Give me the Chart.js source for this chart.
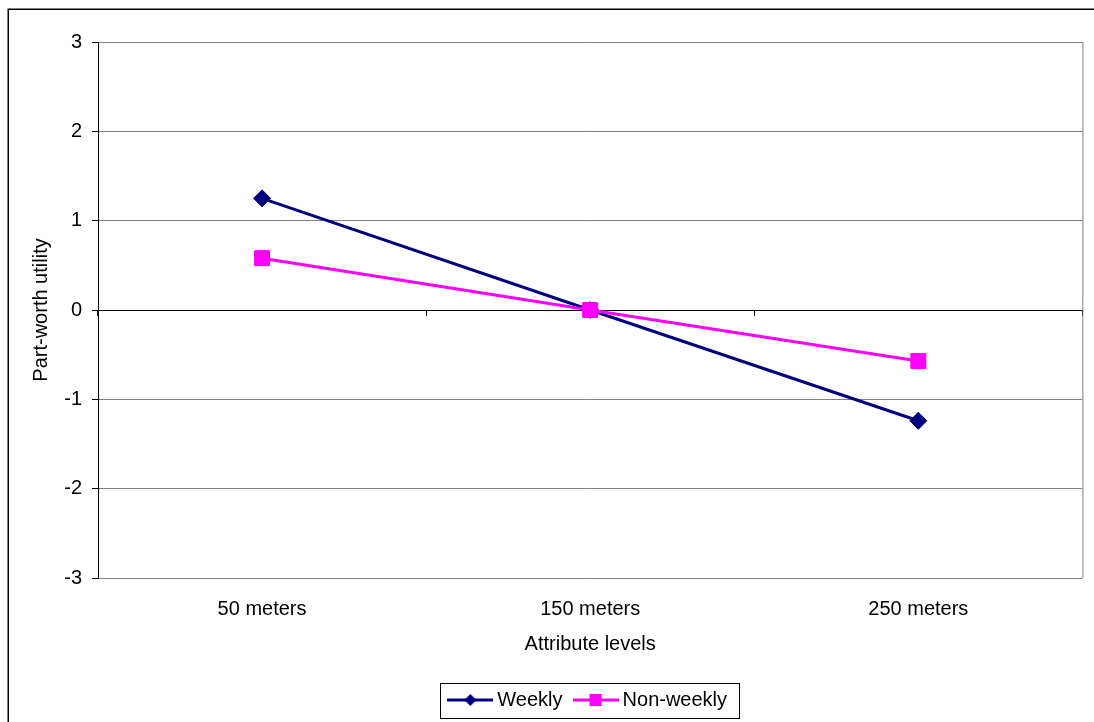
<!DOCTYPE html>
<html>
<head>
<meta charset="utf-8">
<script src="https://cdn.jsdelivr.net/npm/chart.js@4/dist/chart.umd.min.js"></script>
<style>
  html, body { margin: 0; padding: 0; background: #fff; overflow: hidden; }
  #wrap { position: relative; width: 1094px; height: 722px; }
</style>
</head>
<body>
<div id="wrap"><canvas id="partWorth"></canvas></div>
<script>
// valores
var categories = ['50 meters', '150 meters', '250 meters'];
var weeklyValues = [1.25, 0, -1.24];
var nonWeeklyValues = [0.58, 0, -0.57];
var yMin = -3, yMax = 3, yStep = 1;

Chart.defaults.font.family = "'Liberation Sans', Arial, sans-serif";
Chart.defaults.font.size = 20;
Chart.defaults.color = '#000';

// amostra da legenda: linha com o marcador no meio
function legendSample(color, marker) {
    var c = document.createElement('canvas');
    c.width = 46; c.height = 20;
    var g = c.getContext('2d');
    g.strokeStyle = color;
    g.fillStyle = color;
    g.lineWidth = 3;
    g.beginPath(); g.moveTo(0, 10); g.lineTo(46, 10); g.stroke();
    g.beginPath();
    if (marker === 'diamond') {
        g.moveTo(23, 4); g.lineTo(29, 10); g.lineTo(23, 16); g.lineTo(17, 10);
        g.closePath();
    } else {
        g.rect(17, 4, 12, 12);
    }
    g.fill();
    return c;
}

var framePlugin = {
    id: 'frames',
    afterDraw: function (chart) {
        var ctx = chart.ctx, a = chart.chartArea;
        ctx.save();
        // borda direita da área do gráfico
        ctx.strokeStyle = '#808080';
        ctx.lineWidth = 1;
        ctx.beginPath();
        ctx.moveTo(a.right + 0.5, a.top);
        ctx.lineTo(a.right + 0.5, a.bottom);
        ctx.stroke();
        // moldura externa
        ctx.strokeStyle = '#000';
        ctx.lineWidth = 1.5;
        ctx.strokeRect(8.25, 9.25, 2000, 2000);
        // caixa da legenda
        var hb = chart.legend.legendHitBoxes;
        if (hb && hb.length) {
            var first = hb[0], last = hb[hb.length - 1];
            var cy = first.top + first.height / 2;
            var x1 = Math.round(first.left - 13) + 0.5;
            var x2 = Math.round(last.left + last.width + 12) + 0.5;
            ctx.lineWidth = 1;
            ctx.strokeRect(x1, Math.round(cy - 17) + 0.5, x2 - x1, 35);
        }
        ctx.restore();
    }
};

var ctxPartWorth = document.getElementById('partWorth').getContext('2d');

var dataPartWorth = {
    labels: categories,
    datasets: [{
        label: 'Weekly',
        data: weeklyValues,
        borderColor: '#000080',
        backgroundColor: '#000080',
        borderWidth: 3,
        pointStyle: 'rectRot',
        pointRadius: 8.5,
        pointBorderWidth: 1,
        tension: 0,
        order: 2,
        legendMarker: 'diamond'
    }, {
        label: 'Non-weekly',
        data: nonWeeklyValues,
        borderColor: '#FF00FF',
        backgroundColor: '#FF00FF',
        borderWidth: 3,
        pointStyle: 'rect',
        pointRadius: 10.6,
        pointBorderWidth: 1,
        tension: 0,
        order: 1,
        legendMarker: 'square'
    }]
};

var optionsPartWorth = {
    responsive: true,
    maintainAspectRatio: false,
    animation: false,
    layout: {
        padding: { top: 42, right: 10, bottom: 2, left: 0 }
    },
    scales: {
        x: {
            type: 'category',
            position: 'bottom',
            offset: true,
            grid: { display: false },
            border: { display: false },
            ticks: { padding: 11, color: '#000', font: { size: 20 } },
            title: {
                display: true,
                text: 'Attribute levels',
                color: '#000',
                font: { size: 20 },
                padding: { top: 0, bottom: 18 }
            },
            afterFit: function (scale) { scale.height = 96; }
        },
        // marcas do eixo X sobre a linha do zero
        x0: {
            type: 'category',
            position: { y: 0 },
            offset: true,
            grid: {
                offset: true,
                drawOnChartArea: false,
                drawTicks: true,
                tickLength: 6,
                tickColor: '#000',
                color: '#000'
            },
            border: { display: false },
            ticks: { display: false },
            afterFit: function (scale) { scale.height = 0; }
        },
        y: {
            type: 'linear',
            position: 'left',
            min: yMin,
            max: yMax,
            ticks: { stepSize: yStep, padding: 10, color: '#000', font: { size: 20 } },
            grid: {
                color: function (c) { return c.tick && c.tick.value === 0 ? '#000' : '#808080'; },
                tickColor: '#000',
                tickLength: 6,
                lineWidth: 1
            },
            border: { display: true, color: '#000', width: 1 },
            title: {
                display: true,
                text: 'Part-worth utility',
                color: '#000',
                font: { size: 20 },
                padding: { top: 29, bottom: 0 }
            },
            afterFit: function (scale) { scale.width = 98; }
        }
    },
    plugins: {
        tooltip: { enabled: false },
        legend: {
            display: true,
            position: 'bottom',
            fullSize: false,
            labels: {
                usePointStyle: true,
                pointStyleWidth: 34,
                padding: 16,
                color: '#000',
                font: { size: 20 },
                generateLabels: function (chart) {
                    return chart.data.datasets.map(function (ds, i) {
                        return {
                            text: ds.label,
                            pointStyle: legendSample(ds.borderColor, ds.legendMarker),
                            fillStyle: ds.backgroundColor,
                            strokeStyle: ds.borderColor,
                            lineWidth: 0,
                            hidden: false,
                            datasetIndex: i,
                            fontColor: '#000'
                        };
                    });
                }
            }
        }
    }
};

var partWorth = new Chart(ctxPartWorth, {
    type: 'line',
    data: dataPartWorth,
    options: optionsPartWorth,
    plugins: [framePlugin]
});
</script>
</body>
</html>
